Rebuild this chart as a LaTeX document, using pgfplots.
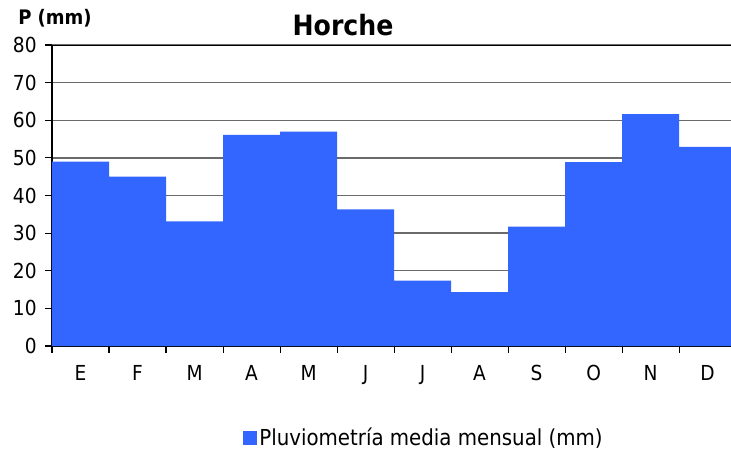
\documentclass[border=0pt]{standalone}
\usepackage{pgfplots}
\pgfplotsset{compat=1.18}
\usepackage{fontspec}
\setmainfont{DejaVu Sans Condensed}
\definecolor{barblue}{HTML}{3366FF}
\definecolor{gridgray}{HTML}{6A6A6A}
\begin{document}
\begin{tikzpicture}
\useasboundingbox (-39pt,-81.75pt) rectangle (509.25pt,259.5pt);
\begin{axis}[
  at={(0pt,0pt)}, anchor=south west,
  width=509.25pt, height=225.75pt, scale only axis,
  xmin=-0.5, xmax=11.41, ymin=0, ymax=80,
  axis x line*=bottom, axis y line*=left,
  axis line style={-, black, line width=0.8pt},
  ytick={0,10,...,80},
  ymajorgrids, grid style={gridgray, line width=1.1pt},
  xtick={0,...,11},
  xticklabels={E,F,M,A,M,J,J,A,S,O,N,D},
  minor xtick={-0.5,0.5,...,11.5},
  major x tick style={draw=none},
  minor x tick style={black, line width=0.8pt},
  y tick style={black, line width=0.8pt},
  tick align=outside,
  major tick length=5pt, minor tick length=5pt,
  ticklabel style={font=\fontsize{15.5}{18}\selectfont},
  /pgf/number format/assume math mode=true,
  xticklabel style={yshift=-6pt},
  yticklabel style={xshift=-3pt},
  ybar, bar width=1, bar shift=0,
  legend style={at={(0.548,-0.306)}, anchor=center, draw=none, fill=none,
    font=\fontsize{16.5}{19}\selectfont, inner sep=0pt,
    nodes={inner sep=1.5pt}},
  legend image code/.code={\fill[barblue] (0pt,-5.25pt) rectangle (10.5pt,5.25pt);},
]
\addplot[fill=barblue, draw=none]
  coordinates {(0,49) (1,45) (2,33.1) (3,56.1) (4,57) (5,36.3) (6,17.4) (7,14.3) (8,31.7) (9,48.9) (10,61.6) (11,52.9)};
\addlegendentry{Pluviometría media mensual (mm)}
\draw[black, line width=0.8pt] (rel axis cs:0,1) -- (rel axis cs:1,1);
\end{axis}
\node[font=\bfseries\fontsize{21}{24}\selectfont] at (218.25pt,240.75pt) {Horche};
\node[font=\bfseries\fontsize{15}{17}\selectfont, anchor=west, inner sep=0pt] at (-25.5pt,246pt) {P (mm)};
\end{tikzpicture}
\end{document}
